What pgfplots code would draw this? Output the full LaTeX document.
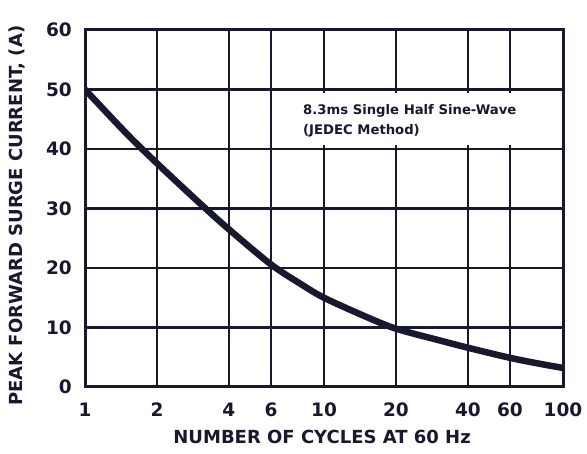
\documentclass[border=0pt]{standalone}
\usepackage{pgfplots}
\pgfplotsset{compat=1.18}
\usepackage{fontspec}
\setmainfont{DejaVu Sans}
\definecolor{ink}{RGB}{24,24,46}

\begin{document}
\begin{tikzpicture}[x=1pt,y=1pt]
\useasboundingbox (0,0) rectangle (587,454);
\begin{axis}[
  at={(85pt,67pt)}, anchor=south west,
  scale only axis, width=478pt, height=357pt,
  xmode=log, xmin=1, xmax=100, ymin=0, ymax=60,
  xtick={1,2,4,6,10,20,40,60,100},
  xticklabels={1,2,4,6,10,20,40,60,100},
  ytick={0,10,20,30,40,50,60},
  yticklabels={0,10,20,30,40,50,60},
  xminorticks=false, yminorticks=false,
  major tick length=0pt,
  grid=major,
  grid style={line width=2.6pt, ink},
  axis line style={line width=3pt, ink},
  ticklabel style={font=\fontsize{18.5}{22}\selectfont\bfseries, text=ink},
  xticklabel style={anchor=base, inner sep=0pt, yshift=-30pt},
  yticklabel style={anchor=east, inner sep=0pt, xshift=-13pt},
  xlabel={NUMBER OF CYCLES AT 60 Hz},
  ylabel={PEAK FORWARD SURGE CURRENT, (A)},
  label style={font=\fontsize{18}{21}\selectfont\bfseries, text=ink},
  xlabel style={at={(axis description cs:0.496,-0.14)}, anchor=center},
  ylabel style={at={(axis description cs:-0.143,0.48)}, anchor=center},
]
% curve
\addplot[ink, line width=6.5pt, smooth] coordinates {
  (1,50) (1.5,42.5) (2,37.6) (3,31.0) (4,26.5) (6,20.6) (8,17.3)
  (10,15.0) (15,11.8) (20,9.8) (30,7.9) (40,6.6) (60,4.9) (80,3.9) (100,3.2)
};
\fill[white] (axis cs:7.9,40.6) rectangle (axis cs:97,49.4);
\node[anchor=north west, inner sep=0pt, align=left, text=ink,
  font=\fontsize{13.2}{20}\selectfont\bfseries]
  at (axis cs:8.17,47.6) {8.3ms Single Half Sine-Wave\\(JEDEC Method)};
\end{axis}
\end{tikzpicture}
\end{document}
